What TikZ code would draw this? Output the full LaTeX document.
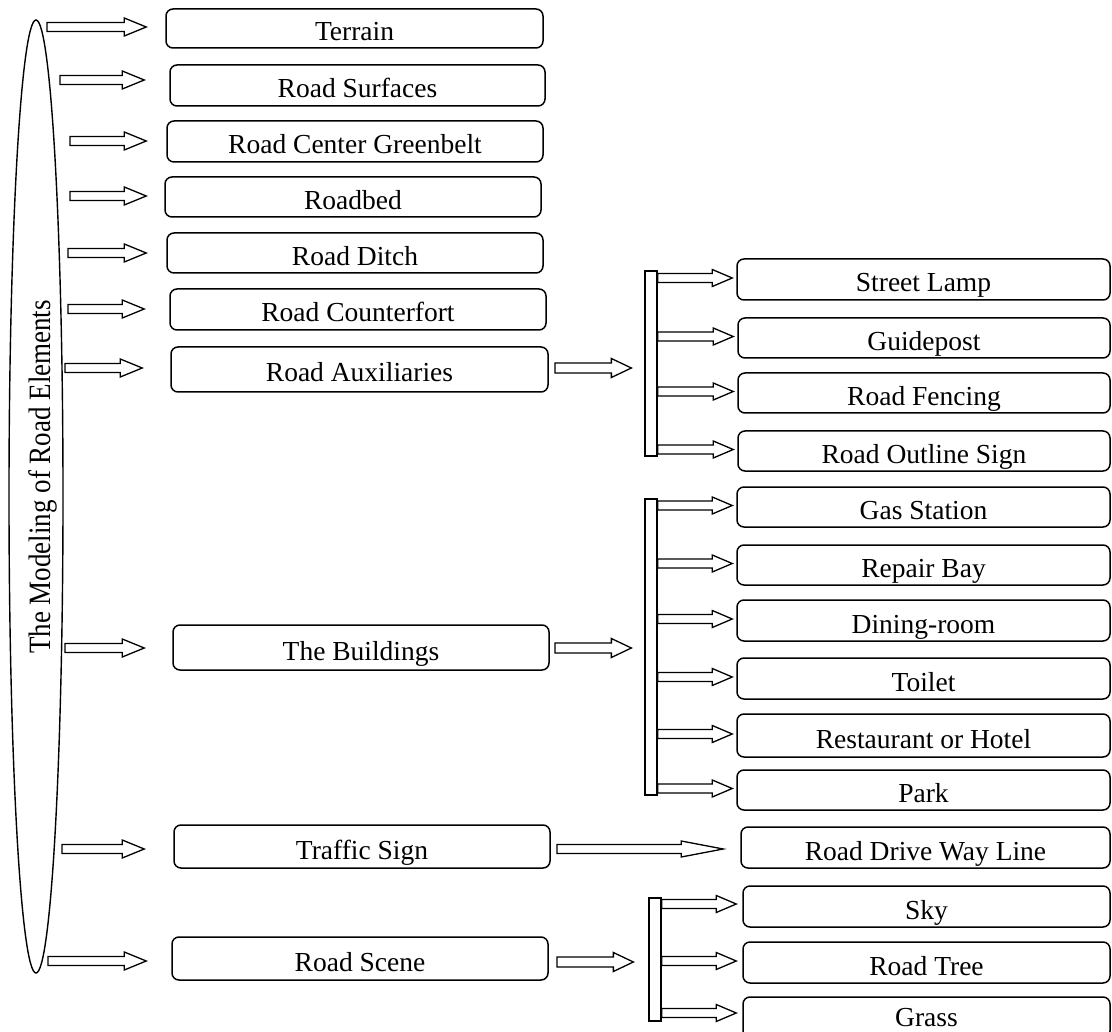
\documentclass[tikz,border=0pt]{standalone}
\usepackage{fontspec}
\setmainfont{Liberation Serif}
\usetikzlibrary{calc,shapes.geometric}
\newcommand\blockarrow[5]{%
  \draw[barrow] let \p1=#1, \p2=#2 in
    (\x1,\y1+#3) -- (\x2-#4,\y1+#3) -- (\x2-#4,\y1+#5) -- (\x2,\y1)
    -- (\x2-#4,\y1-#5) -- (\x2-#4,\y1-#3) -- (\x1,\y1-#3) -- cycle;}
\begin{document}
\begin{tikzpicture}[x=1pt,y=-1pt,
  rbox/.style={draw, line width=1.5pt, rounded corners=7pt, inner sep=0pt,
    font=\fontsize{27.5}{29}\selectfont, text height=29pt, text depth=4pt},
  lbox/.style={rbox, minimum width=376pt},
  rtbox/.style={rbox, minimum width=373pt},
  barrow/.style={draw, line width=1.3pt, fill=white, line join=miter},
  barbox/.style={draw, line width=1.3pt, fill=white, inner sep=0pt, minimum width=12pt},
]
\useasboundingbox (0,0) rectangle (1112,1032);

% ellipse and title
\node[draw, ellipse, line width=1.4pt, minimum width=54pt, minimum height=953pt, inner sep=0pt] (ell) at (36,496.5) {};
\node[rotate=90, inner sep=0pt, font=\fontsize{27}{29}\selectfont] (title) at (43,477) {\scalebox{1}[1.15]{The Modeling of Road Elements}};

% left boxes
\node[lbox, minimum width=377pt, minimum height=39pt] (terrain) at (354.5,28.5) {Terrain};
\node[lbox, minimum width=375pt, minimum height=41pt] (surf) at (357.5,85.5) {Road Surfaces};
\node[lbox, minimum height=41pt] (green) at (355,141.5) {Road Center Greenbelt};
\node[lbox, minimum height=40pt] (roadbed) at (353,197) {Roadbed};
\node[lbox, minimum height=40pt] (ditch) at (355,253) {Road Ditch};
\node[lbox, minimum height=41pt] (counter) at (358,309.5) {Road Counterfort};
\node[lbox, minimum width=377pt, minimum height=45pt] (aux) at (359.5,369.5) {Road Auxiliaries};
\node[lbox, minimum height=45pt] (build) at (361,647.5) {The Buildings};
\node[lbox, minimum height=43pt] (traffic) at (362,846.5) {Traffic Sign};
\node[lbox, minimum height=43pt] (scene) at (360,958.5) {Road Scene};

% right boxes
\node[rtbox, minimum height=41pt] (lamp) at (923.5,279.5) {Street Lamp};
\node[rtbox, minimum width=372pt, minimum height=40pt] (guide) at (924,338) {Guidepost};
\node[rtbox, minimum width=372pt, minimum height=40pt] (fence) at (924,393) {Road Fencing};
\node[rtbox, minimum width=372pt, minimum height=40pt] (outline) at (924,451) {Road Outline Sign};
\node[rtbox, minimum height=40pt] (gas) at (923.5,507) {Gas Station};
\node[rtbox, minimum height=40pt] (repair) at (923.5,565) {Repair Bay};
\node[rtbox, minimum height=41pt] (dining) at (923.5,620.5) {Dining-room};
\node[rtbox, minimum height=41pt] (toilet) at (923.5,678.5) {Toilet};
\node[rtbox, minimum height=43pt] (rest) at (923.5,735.5) {Restaurant or Hotel};
\node[rtbox, minimum height=40pt] (park) at (923.5,790) {Park};
\node[rtbox, minimum width=369pt, minimum height=41pt] (rdwl) at (925.5,847.5) {Road Drive Way Line};
\node[rtbox, minimum width=367pt, minimum height=41pt] (sky) at (926.5,906.5) {Sky};
\node[rtbox, minimum width=367pt, minimum height=41pt] (tree) at (926.5,962.5) {Road Tree};
\node[rtbox, minimum width=367pt, minimum height=41pt, text height=27pt, text depth=9pt] (grass) at (926.5,1017.5) {Grass};

% bracket bars
\node[barbox, minimum height=185pt] (bar1) at (651,363.5) {};
\node[barbox, minimum height=296pt] (bar2) at (651,647) {};
\node[barbox, minimum height=123pt] (bar3) at (655,959.5) {};

% left arrow start points
\coordinate (l1) at (47,27);
\coordinate (l2) at (60,80);
\coordinate (l3) at (70,141);
\coordinate (l4) at (70,196);
\coordinate (l5) at (68,253);
\coordinate (l6) at (68,309);
\coordinate (l7) at (65,368);
\coordinate (l8) at (65,648);
\coordinate (l9) at (62,849);
\coordinate (l10) at (48,961);

\blockarrow{(l1)}{($(terrain.west)+(-19,0)$)}{4.5pt}{22pt}{9pt}
\blockarrow{(l2)}{($(surf.west)+(-25,0)$)}{4.5pt}{22pt}{9pt}
\blockarrow{(l3)}{($(green.west)+(-20,0)$)}{4.5pt}{22pt}{9pt}
\blockarrow{(l4)}{($(roadbed.west)+(-18,0)$)}{4.5pt}{22pt}{9pt}
\blockarrow{(l5)}{($(ditch.west)+(-20,0)$)}{4.5pt}{22pt}{9pt}
\blockarrow{(l6)}{($(counter.west)+(-25,0)$)}{4.5pt}{22pt}{9pt}
\blockarrow{(l7)}{($(aux.west)+(-28,0)$)}{4.5pt}{22pt}{9pt}
\blockarrow{(l8)}{($(build.west)+(-28,0)$)}{4.5pt}{22pt}{9pt}
\blockarrow{(l9)}{($(traffic.west)+(-29,0)$)}{4.5pt}{22pt}{9pt}
\blockarrow{(l10)}{($(scene.west)+(-25,0)$)}{4.5pt}{22pt}{9pt}

% middle arrows
\coordinate (m1) at (555,368);
\coordinate (m2) at (555,648);
\coordinate (m3) at (557,962);
\coordinate (m4) at (557,849);
\blockarrow{(m1)}{($(bar1.west)+(-13,0)$)}{5pt}{20pt}{9.5pt}
\blockarrow{(m2)}{($(bar2.west)+(-13,0)$)}{5pt}{20pt}{9.5pt}
\blockarrow{(m3)}{($(bar3.west)+(-15,0)$)}{5pt}{20pt}{9.5pt}
\blockarrow{(m4)}{($(rdwl.west)+(-17,0)$)}{4.5pt}{42pt}{8pt}

% branch arrows
\foreach \t in {lamp,guide,fence,outline}{
  \blockarrow{($(bar1.east |- \t.west)+(0,-1.5)$)}{($(\t.west)+(-4,0)$)}{4.5pt}{20pt}{8.5pt}}
\foreach \t in {gas,repair,dining,toilet,rest,park}{
  \blockarrow{($(bar2.east |- \t.west)+(0,-1.5)$)}{($(\t.west)+(-4,0)$)}{4.5pt}{20pt}{8.5pt}}
\blockarrow{($(bar3.east |- sky.west)+(0,-2.5)$)}{($(sky.west)+(-6,0)$)}{4.5pt}{20pt}{8.5pt}
\blockarrow{($(bar3.east |- tree.west)+(0,-1.5)$)}{($(tree.west)+(-6,0)$)}{4.5pt}{20pt}{8.5pt}
\blockarrow{($(bar3.east |- grass.west)+(0,-4.5)$)}{($(grass.west)+(-6,0)$)}{4.5pt}{20pt}{8.5pt}
\end{tikzpicture}
\end{document}
